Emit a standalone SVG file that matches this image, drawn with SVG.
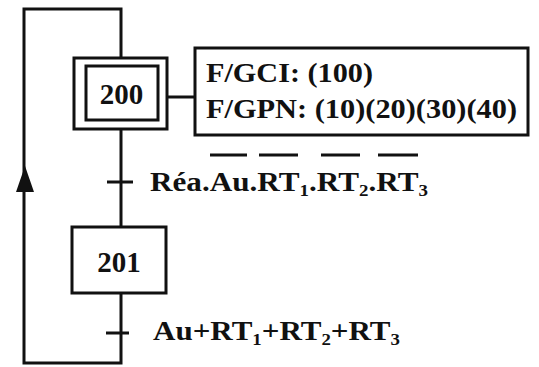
<svg xmlns="http://www.w3.org/2000/svg" width="539" height="367" viewBox="0 0 539 367">
<style>
.ln{stroke:#111;stroke-width:3;fill:none}
.bx{stroke:#111;stroke-width:3;fill:#fff}
.t{font-family:"Liberation Serif","Times New Roman",serif;font-weight:bold;fill:#111}
.sub{font-size:17px}
</style>
<rect width="539" height="367" fill="#fff"/>
<g id="connectors">
<polyline class="ln" points="121,58 121,9 24,9 24,363 121,363 121,293"/>
<line class="ln" x1="121" y1="129" x2="121" y2="227"/>
<line class="ln" x1="167" y1="97" x2="195" y2="97"/>
<line class="ln" x1="107" y1="182" x2="133" y2="182"/>
<line class="ln" x1="106" y1="333" x2="129" y2="333"/>
<polygon points="25,166 16,192 34,192" fill="#111"/>
</g>
<g id="step200">
<rect class="bx" x="74" y="58" width="93" height="71"/>
<rect class="bx" x="86" y="66" width="72" height="54"/>
<text class="t" x="121.5" y="104" font-size="29" text-anchor="middle">200</text>
</g>
<g id="action200">
<rect class="bx" x="195" y="48" width="333" height="87"/>
<text class="t" x="206" y="82" font-size="27" textLength="167" lengthAdjust="spacingAndGlyphs">F/GCI: (100)</text>
<text class="t" x="206" y="118" font-size="27" textLength="311" lengthAdjust="spacingAndGlyphs">F/GPN: (10)(20)(30)(40)</text>
</g>
<g id="transition1">
<text class="t" x="150" y="191" font-size="28" textLength="278" lengthAdjust="spacingAndGlyphs">Réa.Au.RT<tspan class="sub" dy="5">1</tspan><tspan dy="-5">.RT</tspan><tspan class="sub" dy="5">2</tspan><tspan dy="-5">.RT</tspan><tspan class="sub" dy="5">3</tspan></text>
<g class="ln">
<line x1="210" y1="155" x2="247" y2="155"/>
<line x1="259" y1="155" x2="298" y2="155"/>
<line x1="321" y1="155" x2="360" y2="155"/>
<line x1="378" y1="155" x2="418" y2="155"/>
</g>
</g>
<g id="step201">
<rect class="bx" x="72" y="227" width="94" height="66"/>
<text class="t" x="119" y="272" font-size="29" text-anchor="middle">201</text>
</g>
<g id="transition2">
<text class="t" x="153" y="340" font-size="28" textLength="247" lengthAdjust="spacingAndGlyphs">Au+RT<tspan class="sub" dy="5">1</tspan><tspan dy="-5">+RT</tspan><tspan class="sub" dy="5">2</tspan><tspan dy="-5">+RT</tspan><tspan class="sub" dy="5">3</tspan></text>
</g>
</svg>
